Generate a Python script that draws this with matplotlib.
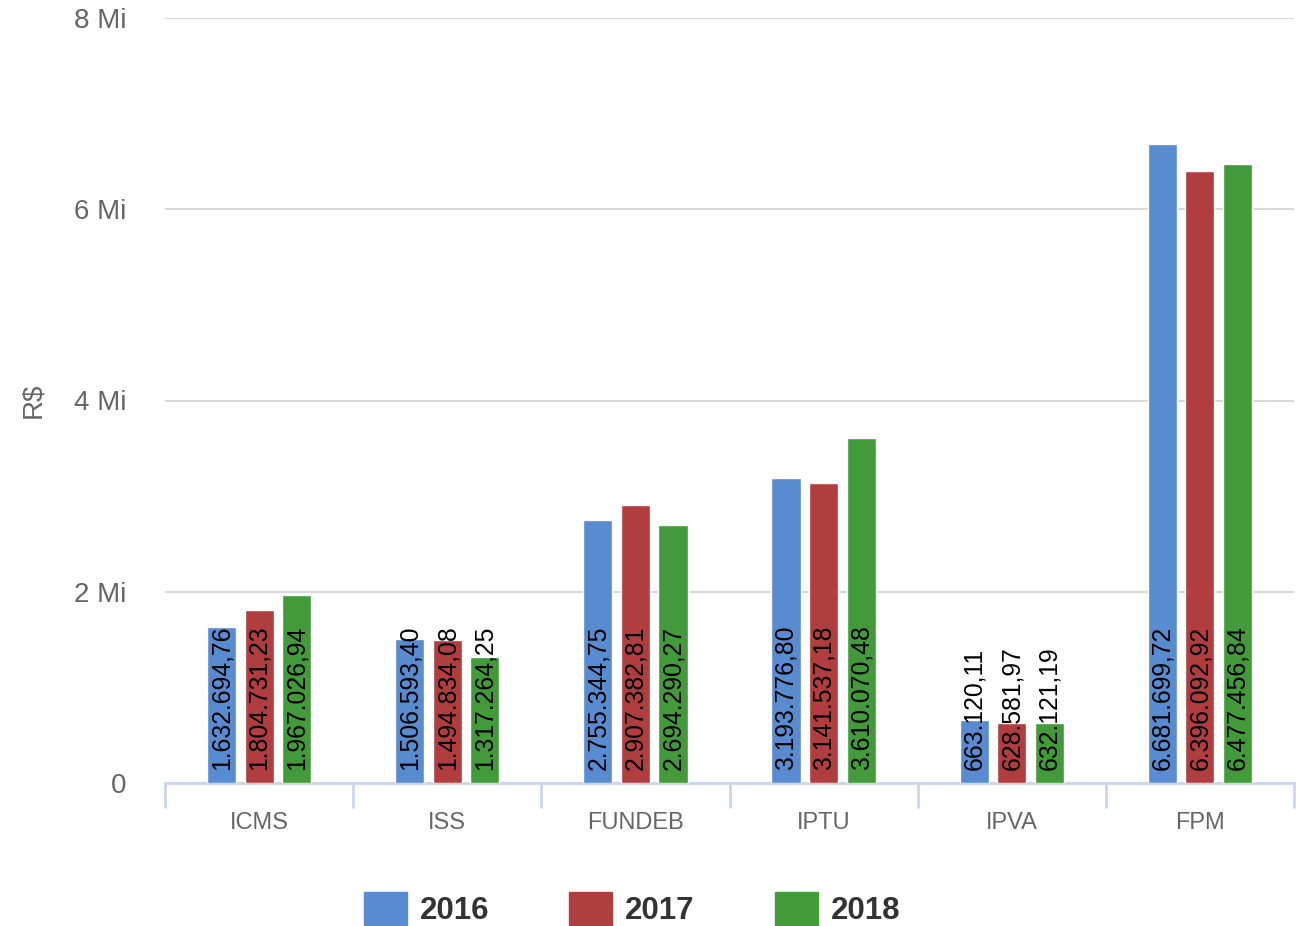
import matplotlib.pyplot as plt
from matplotlib.patches import Rectangle
from matplotlib.ticker import FuncFormatter
import numpy as np

plt.rcParams['font.family'] = ['Liberation Sans', 'DejaVu Sans']

categories = ["ICMS", "ISS", "FUNDEB", "IPTU", "IPVA", "FPM"]
years = ["2016", "2017", "2018"]
v2016 = [1632694.76, 1506593.40, 2755344.75, 3193776.80, 663120.11, 6681699.72]
v2017 = [1804731.23, 1494834.08, 2907382.81, 3141537.18, 628581.97, 6396092.92]
v2018 = [1967026.94, 1317264.25, 2694290.27, 3610070.48, 632121.19, 6477456.84]
colors = ["#588bd0", "#b03e3f", "#429a3a"]


def br_fmt(v):
    s = f"{v:,.2f}"
    return s.replace(",", "X").replace(".", ",").replace("X", ".")


fig = plt.figure(figsize=(12.96, 9.26), dpi=100)
ax = fig.add_axes([165 / 1296, 1 - 783 / 926, 1129 / 1296, 765 / 926])

x = np.arange(len(categories))
width = 0.155
offsets = [-0.2, 0.0, 0.2]
for vals, off, c in zip([v2016, v2017, v2018], offsets, colors):
    bars = ax.bar(x + off, vals, width=width, color=c, edgecolor="white",
                  linewidth=1, zorder=3)
    for b, v in zip(bars, vals):
        ax.annotate(br_fmt(v), (b.get_x() + b.get_width() / 2, 0),
                    xytext=(0, 9), textcoords="offset points",
                    rotation=90, ha="center", va="bottom",
                    fontsize=17.8, color="black", zorder=4)

ax.set_xlim(-0.5, len(categories) - 0.5)
ax.set_ylim(0, 8e6)
ax.set_yticks([0, 2e6, 4e6, 6e6, 8e6])
ax.yaxis.set_major_formatter(FuncFormatter(
    lambda v, p: "0" if v == 0 else f"{int(v / 1e6)} Mi"))
ax.grid(axis="y", color="#d8d8d8", linewidth=1.5, zorder=0)
ax.tick_params(axis="y", length=0, pad=28, labelsize=20, labelcolor="#666666")

ax.set_xticks(x)
ax.set_xticklabels(categories)
ax.tick_params(axis="x", which="major", length=0, pad=21, labelsize=17,
               labelcolor="#666666")
ax.set_xticks(np.arange(len(categories) + 1) - 0.5, minor=True)
ax.tick_params(axis="x", which="minor", length=18, width=2, color="#ccd6eb")

for s in ["top", "right", "left"]:
    ax.spines[s].set_visible(False)
ax.spines["bottom"].set_color("#ccd6eb")
ax.spines["bottom"].set_linewidth(2)

fig.text(33 / 1296, 1 - 400 / 926, "R$", rotation=90, ha="center",
         va="center", fontsize=20, color="#666666")

# legend
leg_x = [364, 569, 775]
for lx, yr, c in zip(leg_x, years, colors):
    fig.add_artist(Rectangle((lx / 1296, 1 - 925 / 926), 43 / 1296, 33 / 926,
                             transform=fig.transFigure, color=c))
    fig.text((lx + 56) / 1296, 1 - 911 / 926, yr, ha="left", va="center",
             fontsize=22.5, fontweight="bold", color="#333333")

fig.savefig("out.png", dpi=100)
